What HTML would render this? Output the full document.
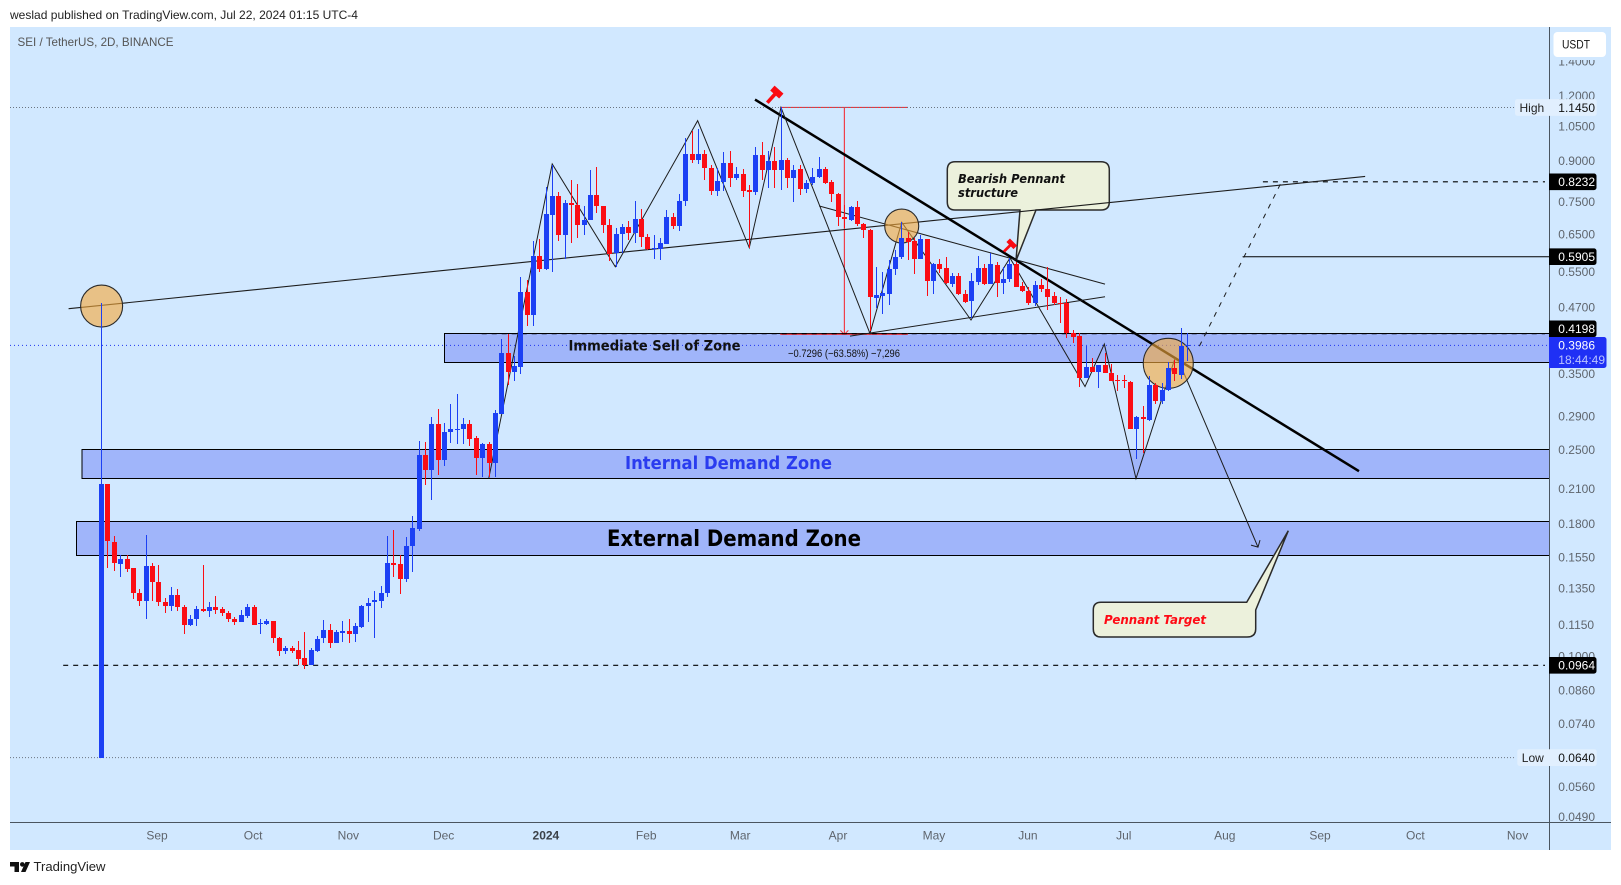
<!DOCTYPE html>
<html lang="en">
<head>
<meta charset="utf-8">
<title>SEI / TetherUS 2D chart</title>
<style>
html,body{margin:0;padding:0;background:#fff;width:1621px;height:885px;overflow:hidden}
svg{display:block;font-family:"Liberation Sans",sans-serif}
</style>
</head>
<body>
<svg id="chart" xmlns="http://www.w3.org/2000/svg" width="1621" height="885" viewBox="0 0 1621 885">
  <defs>
    <clipPath id="plot-clip"><rect x="10" y="27" width="1539" height="795"/></clipPath>
  </defs>
  <rect x="0" y="0" width="1621" height="885" fill="#ffffff"/>
  <text x="10" y="19" font-size="12" fill="#222" textLength="348" lengthAdjust="spacingAndGlyphs">weslad published on TradingView.com, Jul 22, 2024 01:15 UTC-4</text>
  <rect x="10" y="27" width="1601" height="823" fill="#d1e8ff"/>
  <g id="plot" clip-path="url(#plot-clip)"></g>
  <text x="17.5" y="46" font-size="12" fill="#555" textLength="156" lengthAdjust="spacingAndGlyphs">SEI / TetherUS, 2D, BINANCE</text>
  <line x1="1549.5" y1="27" x2="1549.5" y2="850" stroke="#4a5560" stroke-width="1"/>
  <line x1="10" y1="822.5" x2="1611" y2="822.5" stroke="#4a5560" stroke-width="1"/>
  <g id="axes"></g>
  <rect x="1550" y="27" width="61" height="33" fill="#d1e8ff"/>
  <g id="labels"></g>
  <rect x="1553.5" y="32" width="52.5" height="25" rx="4" fill="#ffffff"/>
  <text x="1562" y="48.5" font-size="12" fill="#111" textLength="28" lengthAdjust="spacingAndGlyphs">USDT</text>
  <g fill="#111">
    <path d="M10 862h9v10h-4.5v-5.5h-4.5zM30 862l-4.5 10h-4.5l4.5-10z"/><circle cx="22.3" cy="864.4" r="2.3"/>
  </g>
  <text x="33.5" y="871" font-size="13" fill="#222" textLength="72" lengthAdjust="spacingAndGlyphs">TradingView</text>
</svg>
<script>
// ---- scales ----
const barOrigin = 101.3, barStep = 6.351;
const priceBase = 138, priceScale = 225.4;
// ---- candle data (2D bars, USDT) ----
const opens = [.064,.2155,.1669,.1513,.1545,.1482,.1326,.1283,.15,.1397,
.1279,.1255,.1317,.1246,.1155,.1183,.1239,.1227,.1251,.1235,
.1218,.1186,.1166,.12,.1246,.1159,.1159,.1172,.109,.1026,
.1039,.1031,.0995,.0966,.1026,.1089,.1126,.1062,.1113,.1121,
.1106,.1142,.1255,.1274,.1283,.1326,.1516,.151,.1414,.1639,
.1767,.2446,.2288,.2816,.2395,.271,.2736,.2755,.2816,.2641,
.2417,.2577,.2369,.2937,.3859,.3541,.3622,.5042,.4557,.5915,
.5593,.7114,.7717,.6512,.7483,.7419,.6804,.6943,.7751,.7386,
.6787,.5992,.6524,.6727,.6569,.6973,.6438,.6104,.6104,.6254,
.7039,.6775,.7552,.9302,.9083,.9302,.8764,.7895,.8237,.8937,
.8362,.8512,.7933,.7861,.9259,.869,.902,.8668,.9061,.8362,
.8705,.7963,.818,.8423,.8705,.8225,.7802,.7039,.6946,.7357,
.6835,.665,.4923,.4963,.501,.5589,.5889,.6407,.6325,.5855,
.6379,.531,.5718,.5617,.5231,.542,.5002,.486,.5282,.561,
.5231,.5701,.5249,.5345,.5718,.5179,.5082,.4804,.5214,.5114,
.4955,.4819,.481,.4202,.4154,.3442,.3613,.3542,.3651,.3521,
.3418,.3418,.3391,.2755,.2899,.2861,.3347,.3118,.3276,.3606,
.3497,.3977];
const highs = [.48,.2155,.171,.1572,.1572,.1482,.1355,.1717,.1516,.1504,
.1298,.1365,.1355,.1258,.1205,.1254,.1503,.1279,.1311,.1251,
.1224,.1192,.1233,.1267,.1262,.1185,.1185,.1172,.1095,.1049,
.1049,.1073,.1116,.1041,.1098,.118,.1158,.1126,.1172,.1183,
.1162,.1262,.1298,.1339,.1373,.171,.1759,.1571,.1702,.1868,
.2608,.259,.29,.3,.2825,.3071,.3216,.2885,.2861,.2665,
.258,.2594,.299,.4098,.4192,.3802,.5392,.5328,.6325,.6385,
.8056,.8873,.7877,.7596,.8297,.8154,.7394,.8683,.8789,.7386,
.6973,.6712,.682,.6926,.7552,.7282,.6524,.6502,.6407,.7262,
.716,.7802,.9987,1.033,1.0393,.9482,.8873,.8744,.9411,.9435,
.8778,.8701,.8117,.9596,.981,.9451,.962,1.145,.9165,.8873,
.8873,.8297,.8744,.918,.8804,.8297,.7848,.7432,.7412,.7572,
.6868,.6668,.5649,.5526,.582,.6083,.6899,.66,.6407,.6502,
.6385,.5752,.5838,.5907,.5504,.5488,.509,.5488,.5927,.5707,
.6013,.5776,.5649,.5863,.5776,.5282,.5171,.531,.5345,.5649,
.506,.4932,.4893,.4267,.4202,.3977,.3761,.3656,.3847,.3671,
.3492,.3492,.3403,.2915,.304,.3484,.3369,.3369,.3699,.3733,
.43,.4202];
const lows = [.064,.1485,.1464,.1425,.1459,.1295,.1255,.1186,.1283,.1255,
.1217,.1227,.1227,.1109,.1149,.1149,.1221,.1196,.1212,.12,
.1166,.1155,.1166,.1189,.1155,.1109,.1155,.1066,.1003,.1012,
.1018,.0964,.0948,.0964,.1022,.1062,.104,.1062,.107,.1062,
.107,.1137,.117,.1089,.1245,.1306,.1427,.1323,.1397,.1459,
.175,.2145,.201,.2247,.2336,.2585,.2573,.2577,.2552,.2245,
.2218,.2218,.2218,.2937,.3345,.3407,.351,.4348,.4348,.5526,
.5566,.5526,.6343,.5838,.6278,.6421,.6512,.6943,.716,.6555,
.5785,.5649,.5992,.6364,.627,.6168,.6083,.5846,.582,.6254,
.6678,.6626,.7412,.8965,.8912,.8297,.7766,.7732,.7916,.8056,
.8297,.7705,.6132,.7776,.8297,.8001,.8023,.7942,.8013,.7539,
.7766,.7848,.8117,.8362,.8142,.7539,.6768,.6704,.6919,.6768,
.6407,.4241,.4701,.4576,.4764,.5449,.5846,.582,.5469,.5838,
.4961,.5002,.5504,.5226,.5171,.4981,.4804,.4497,.5206,.5199,
.5231,.4945,.4998,.5282,.5171,.506,.4764,.4743,.506,.4661,
.4764,.4405,.4115,.4036,.3319,.3442,.3542,.3303,.3521,.341,
.3258,.3303,.2749,.2408,.2474,.2855,.307,.307,.3258,.3408,
.3438,.3722];
const closes = [.2155,.167,.1516,.1545,.1479,.1326,.1283,.15,.1395,.1275,
.1255,.1317,.125,.1155,.1185,.1239,.1227,.1251,.1233,.1217,
.1186,.1166,.1203,.1246,.1155,.1163,.1175,.1089,.1025,.1039,
.1026,.0993,.0966,.1031,.1085,.1126,.1062,.1116,.1123,.1106,
.1146,.1256,.1272,.1288,.1326,.1516,.1506,.1414,.1635,.1775,
.2452,.2288,.2816,.2395,.271,.2749,.2749,.2816,.2635,.2417,
.2577,.2369,.2948,.3859,.3541,.3636,.5042,.4557,.5915,.5593,
.7125,.7717,.6512,.7483,.7419,.6804,.6943,.7751,.7386,.6787,
.5967,.6524,.6727,.6569,.6973,.6438,.6104,.6132,.6268,.7039,
.6775,.7552,.9302,.9083,.9302,.8764,.7895,.825,.8937,.8362,
.8512,.7916,.7861,.9259,.869,.902,.8668,.9061,.8362,.869,
.7963,.818,.8423,.8705,.8202,.7792,.7039,.6973,.7357,.6835,
.665,.4932,.4981,.5025,.5589,.5889,.6407,.6304,.5855,.6379,
.531,.5718,.5593,.5249,.542,.4998,.484,.5293,.561,.5231,
.5718,.5249,.5345,.5718,.5171,.5082,.4804,.5214,.5114,.4945,
.4819,.4804,.4202,.4145,.3442,.3613,.3542,.3656,.3521,.341,
.3408,.3403,.2755,.2899,.2871,.3347,.3118,.3276,.3606,.3504,
.3977,.3986];
// ---- axis data ----
const priceTicks = [1.4,1.2,1.05,.9,.75,.65,.55,.47,.35,.29,.25,.21,.18,.155,.135,.115,.1,.086,.074,.056,.049];
const monthLabels = ["Sep","Oct","Nov","Dec","2024","Feb","Mar","Apr","May","Jun","Jul","Aug","Sep","Oct","Nov"];
const monthBars = [8.77,23.9,38.9,53.9,70,85.8,100.6,116,131.1,145.9,161,176.9,191.9,206.9,223];
// ---- drawing data (bar index, price) ----
const zoneNames = ["immediate-sell-zone","internal-demand-zone","external-demand-zone"];
const zoneStartBars = [54,-3,-3.93];
const zoneTops = [.4198,.2513,.1826];
const zoneBottoms = [.3697,.2207,.157];
const levelPrices = [.8232,.5905,.4198,.0964];
const levelStartBars = [182.9,179.7,59.9,-6];
const levelTagCenters = [.8232,.5905,.4290,.0964];
const zigzagBars = [61,71,80.93,93.9,102.03,107.02,121.03,126.03,136.94,143.08,154.89,157.93,162.92,169.07];
const zigzagPrices = [.2207,.891,.5649,1.0798,.6145,1.145,.4202,.6879,.446,.5873,.3319,.4008,.2207,.3767];
const measureBars = [106.9, 127];
const measurePrices = [1.145, .4185];
const measureBar = 117;
const circleBars = [0.05, 126.03, 168];
const circlePrices = [.4745, .6767, .368];
const circleRadii = [21, 17, 25];
const lastClose = closes[closes.length - 1];
const highPrice = 1.145, lowPrice = .064;

const xOf = b => barOrigin + b * barStep;
const yOf = p => priceBase - priceScale * Math.log(p);
const NS = "http://www.w3.org/2000/svg";
const plot = document.getElementById("plot");
const axes = document.getElementById("axes");
const labels = document.getElementById("labels");

function make(tag, attrs, parent) {
  const e = document.createElementNS(NS, tag);
  for (const k in attrs) e.setAttribute(k, attrs[k]);
  parent.appendChild(e);
  return e;
}

// zones
zoneNames.forEach((name, i) => {
  const el = make("rect", {x: xOf(zoneStartBars[i]), y: yOf(zoneTops[i]), width: 1549 - xOf(zoneStartBars[i]) + 2,
    height: yOf(zoneBottoms[i]) - yOf(zoneTops[i]), fill: "#a0b5fa", stroke: "#000", "stroke-width": 1, "shape-rendering": "crispEdges"}, plot);
  
  
});

// measure tool
measurePrices.forEach(p => {
  const el = make("line", {x1: xOf(measureBars[0]), x2: xOf(measureBars[1]), y1: yOf(p), y2: yOf(p), stroke: "#f2303a", "stroke-width": 1.1}, plot);
  
  
});
const mLine = make("line", {x1: xOf(measureBar), x2: xOf(measureBar), y1: yOf(measurePrices[0]), y2: yOf(measurePrices[1]), stroke: "#f2303a", "stroke-width": 1.1}, plot);


const mHead = make("polyline", {points: (xOf(measureBar)-4)+","+(yOf(measurePrices[1])-4)+" "+xOf(measureBar)+","+yOf(measurePrices[1])+" "+(xOf(measureBar)+4)+","+(yOf(measurePrices[1])-4), fill: "none", stroke: "#f2303a", "stroke-width": 1}, plot);



// high / low / last dotted lines
[[highPrice, "#6b7480", "high-line"], [lowPrice, "#6b7480", "low-line"]].forEach(d => {
  const el = make("line", {x1: 10, x2: 1515, y1: yOf(d[0]), y2: yOf(d[0]), stroke: d[1], "stroke-width": 1, "stroke-dasharray": "1 2"}, plot);
  
  
});
const lastLine = make("line", {x1: 10, x2: 1549, y1: yOf(lastClose), y2: yOf(lastClose), stroke: "#1f35ee", "stroke-width": 1, "stroke-dasharray": "1 3"}, plot);



// horizontal levels
levelPrices.forEach((p, i) => {
  const solid = i === 1;
  const el = make("line", {x1: xOf(levelStartBars[i]), x2: solid ? 1549 : 1545, y1: yOf(p), y2: yOf(p), stroke: "#000", "stroke-width": 1.1,
    "stroke-dasharray": solid ? "none" : "5 5"}, plot);
  
  
});

// callouts sit under the trend lines
const calloutMarkup = `
<path d="M955 161.7H1101Q1109.3 161.7 1109.3 170V202Q1109.3 210 1101 210H1036L1016 260.7L1020 210H955Q947.3 210 947.3 202V170Q947.3 161.7 955 161.7Z" fill="#ecf1dc" stroke="#2b2b2b" stroke-width="1.5"/>
<path d="M1101 602.3H1246.7L1288.3 530.7L1255.7 610V629Q1255.7 637 1247 637H1101Q1093.3 637 1093.3 629V610Q1093.3 602.3 1101 602.3Z" fill="#ecf1dc" stroke="#2b2b2b" stroke-width="1.5"/>`;
const calloutLayer = make("g", {}, plot);


calloutLayer.innerHTML = calloutMarkup;

function seg(b1, p1, b2, p2, attrs, name) {
  const base = {x1: xOf(b1), y1: yOf(p1), x2: xOf(b2), y2: yOf(p2), stroke: "#1c1c1c", "stroke-width": 1};
  const el = make("line", Object.assign(base, attrs || {}), plot);
  
  
  return el;
}

// trend lines
seg(-5.15, .4689, 199, .8431, {"stroke-width": 1.1}, "rising-trendline");
seg(102.93, 1.186, 198.03, .228, {"stroke-width": 2.5, stroke: "#000"}, "falling-trendline");
seg(113.05, .7396, 158.04, .5229, {}, "pennant-upper-line");
seg(117.89, .4152, 158.04, .4945, {}, "pennant-lower-line");
seg(172.9, .3972, 185.9, .8263, {"stroke-dasharray": "5 6"}, "bullish-path-arrow");
seg(169.85, .3669, 182.13, .1628, {}, "bearish-target-arrow");

// zigzag
const zz = make("polyline", {points: zigzagBars.map((b, i) => xOf(b) + "," + yOf(zigzagPrices[i])).join(" "), fill: "none", stroke: "#1c1c1c", "stroke-width": 1}, plot);



// arrow head at target
const tipX = xOf(182.13), tipY = yOf(.1628);
const ah = make("polyline", {points: (tipX-7)+","+(tipY-2)+" "+tipX+","+tipY+" "+(tipX+2)+","+(tipY-7), fill: "none", stroke: "#1c1c1c", "stroke-width": 1}, plot);



// circles
circleBars.forEach((b, i) => {
  const el = make("circle", {cx: xOf(b), cy: yOf(circlePrices[i]), r: circleRadii[i], fill: "rgba(245,170,60,.62)", stroke: "#2a2a2a", "stroke-width": 1.1}, plot);
  
  
});

// candles render above the drawings and highlight circles
opens.forEach((o, i) => {
  const c = closes[i], up = c >= o;
  const col = up ? "#1c40f4" : "#fb0d14";
  const px = Math.floor(xOf(i) + .3);
  const wick = make("rect", {x: px, width: 1, y: Math.round(yOf(highs[i])), height: Math.max(Math.round(yOf(lows[i])) - Math.round(yOf(highs[i])), 1), fill: col, "shape-rendering": "crispEdges"}, plot);
  
  
  const top = Math.round(yOf(Math.max(o, c))), bot = Math.round(yOf(Math.min(o, c)));
  const body = make("rect", {x: px - 2, y: top, width: 5, height: Math.max(bot - top, 1), fill: col, "shape-rendering": "crispEdges"}, plot);
  
  
});

// hammers and text annotations
const staticMarkup = `
<text x="958" y="183" font-family="DejaVu Sans" font-size="12.5" font-style="italic" font-weight="bold" fill="#111" textLength="107" lengthAdjust="spacingAndGlyphs">Bearish Pennant</text>
<text x="958" y="197" font-family="DejaVu Sans" font-size="12.5" font-style="italic" font-weight="bold" fill="#111" textLength="60" lengthAdjust="spacingAndGlyphs">structure</text>
<text x="1104" y="624" font-family="DejaVu Sans" font-size="12.5" font-style="italic" font-weight="bold" fill="#ff0a14" textLength="102" lengthAdjust="spacingAndGlyphs">Pennant Target</text>
<text x="568.5" y="350.5" font-family="DejaVu Sans" font-size="14" font-weight="bold" fill="#111" textLength="172" lengthAdjust="spacingAndGlyphs">Immediate Sell of Zone</text>
<text x="625" y="469" font-family="DejaVu Sans" font-size="18" font-weight="bold" fill="#2a3cef" textLength="207" lengthAdjust="spacingAndGlyphs">Internal Demand Zone</text>
<text x="607" y="546" font-family="DejaVu Sans" font-size="22" font-weight="bold" fill="#000" textLength="254" lengthAdjust="spacingAndGlyphs">External Demand Zone</text>
<text x="788" y="357" font-size="11" fill="#111" textLength="112" lengthAdjust="spacingAndGlyphs">\u22120.7296 (\u221263.58%) \u22127,296</text>
<g transform="translate(776 93) rotate(-48)" fill="#fb0a12"><rect x="-13" y="-1.8" width="13" height="3.6"/><rect x="-2" y="-6" width="6.5" height="12"/></g>
<g transform="translate(1011 244.5) rotate(-45)" fill="#fb0a12"><rect x="-10" y="-1.4" width="10" height="2.8"/><rect x="-1.5" y="-5" width="5" height="10"/></g>`;
const holder = make("g", {}, plot);


holder.innerHTML = staticMarkup;

// price ticks
priceTicks.forEach(p => {
  const t = make("text", {x: 1558.3, y: yOf(p) + 3.3, "font-size": 12, fill: "#5f656d"}, axes);
  t.textContent = p.toFixed(4);
  
  
});
// time ticks
monthLabels.forEach((m, i) => {
  const t = make("text", {x: xOf(monthBars[i]), y: 839.5, "font-size": 12, fill: m === "2024" ? "#3c4148" : "#5f656d", "text-anchor": "middle", "font-weight": m === "2024" ? "bold" : "normal"}, axes);
  t.textContent = m;
  
  
});

// black price labels
levelPrices.forEach((p, i) => {
  const cy = yOf(levelTagCenters[i]);
  const r = make("path", {d: "M1549 " + (cy-8.3) + "H1594a2.5 2.5 0 0 1 2.5 2.5V" + (cy+5.8) + "a2.5 2.5 0 0 1-2.5 2.5H1549Z", fill: "#000"}, labels);
  
  
  const t = make("text", {x: 1558.3, y: cy + 4.3, "font-size": 12, fill: "#fff"}, labels);
  t.textContent = p.toFixed(4);
  
  
});

// high and low tags
[["High", highPrice, 1515], ["Low", lowPrice, 1517.3]].forEach(d => {
  const y = yOf(d[1]);
  const r = make("rect", {x: d[2], y: y - 8.4, width: 1596.7 - d[2], height: 16.8, rx: 2.5, fill: "#e1effe"}, labels);
  
  
  const a = make("text", {x: d[2] + 4.5, y: y + 4.3, "font-size": 12, fill: "#222"}, labels);
  a.textContent = d[0];
  
  
  const b = make("text", {x: 1558.3, y: y + 4.3, "font-size": 12, fill: "#111"}, labels);
  b.textContent = d[1].toFixed(4);
  
  
});

// last price tag
const lastTag = make("path", {d: "M1549 337H1604a2.5 2.5 0 0 1 2.5 2.5V365.5a2.5 2.5 0 0 1-2.5 2.5H1549Z", fill: "#1f30f5"}, labels);


const lastText = make("text", {x: 1558.3, y: 349.5, "font-size": 12, fill: "#fff"}, labels);
lastText.textContent = lastClose.toFixed(4);


const countText = make("text", {x: 1558.3, y: 364, "font-size": 12, fill: "#b9c2ff"}, labels);
countText.textContent = "18:44:49";


</script>
</body>
</html>
